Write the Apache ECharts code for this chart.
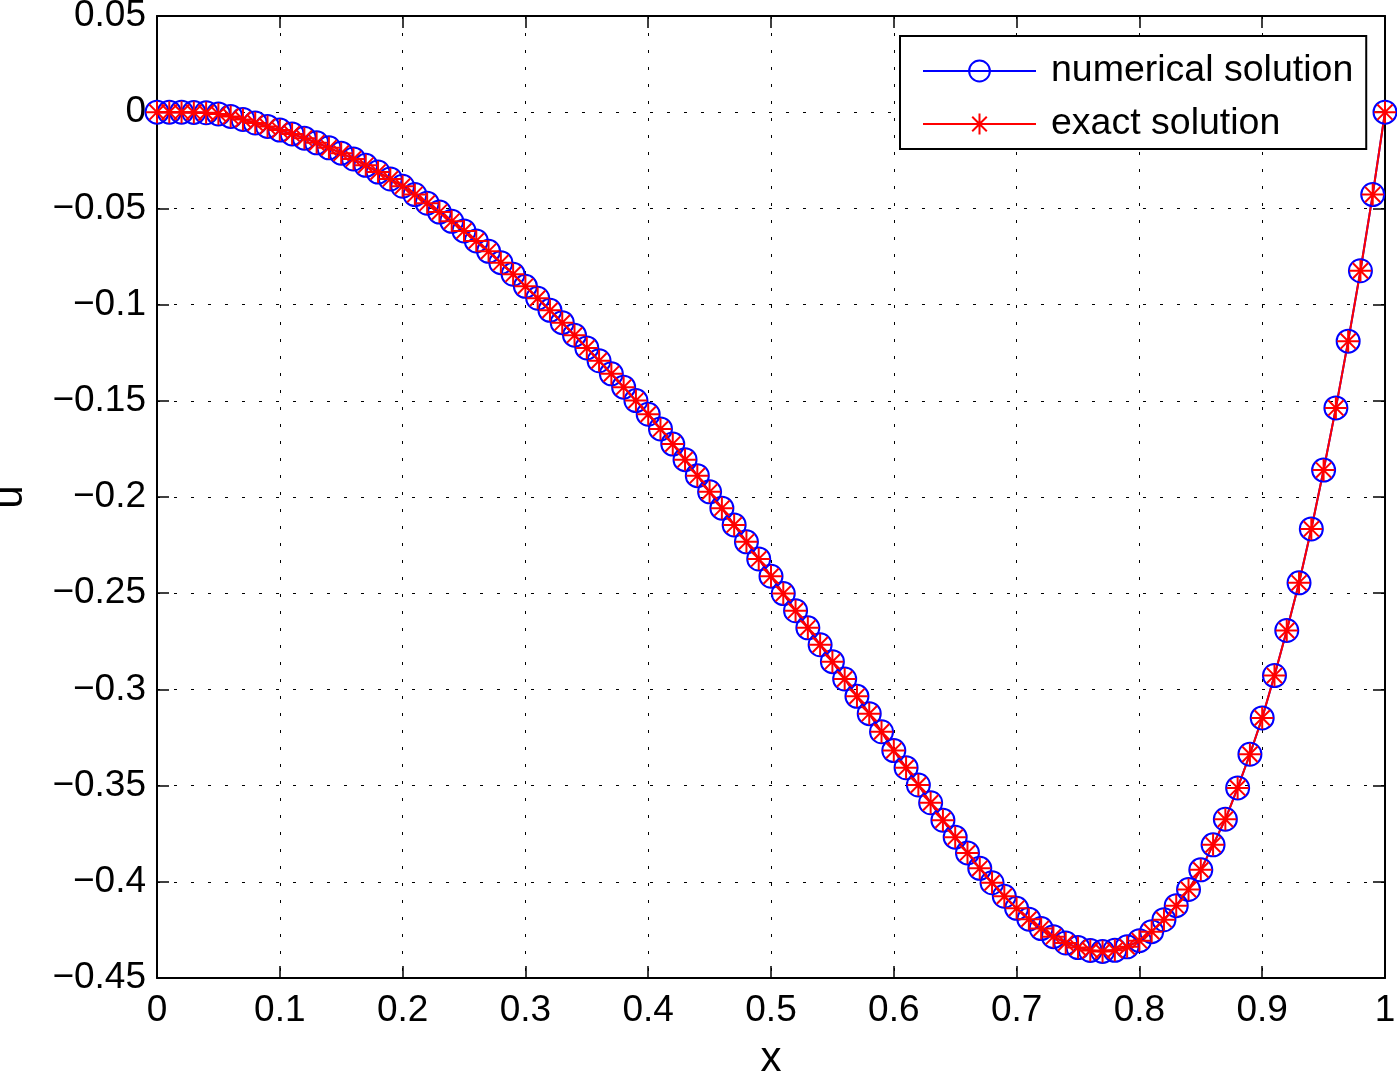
<!DOCTYPE html>
<html>
<head>
<meta charset="utf-8">
<script src="https://cdn.jsdelivr.net/npm/echarts@6/dist/echarts.min.js"></script>
<style>
  html, body { margin: 0; padding: 0; background: #fff; }
  #chart { width: 1397px; height: 1072px; }
</style>
</head>
<body>
<div id="chart"></div>
<script>
// grid nodes
const xNodes = [
  0, 0.01, 0.02, 0.03, 0.04, 0.05, 0.06, 0.07, 0.08, 0.09,
  0.1, 0.11, 0.12, 0.13, 0.14, 0.15, 0.16, 0.17, 0.18, 0.19,
  0.2, 0.21, 0.22, 0.23, 0.24, 0.25, 0.26, 0.27, 0.28, 0.29,
  0.3, 0.31, 0.32, 0.33, 0.34, 0.35, 0.36, 0.37, 0.38, 0.39,
  0.4, 0.41, 0.42, 0.43, 0.44, 0.45, 0.46, 0.47, 0.48, 0.49,
  0.5, 0.51, 0.52, 0.53, 0.54, 0.55, 0.56, 0.57, 0.58, 0.59,
  0.6, 0.61, 0.62, 0.63, 0.64, 0.65, 0.66, 0.67, 0.68, 0.69,
  0.7, 0.71, 0.72, 0.73, 0.74, 0.75, 0.76, 0.77, 0.78, 0.79,
  0.8, 0.81, 0.82, 0.83, 0.84, 0.85, 0.86, 0.87, 0.88, 0.89,
  0.9, 0.91, 0.92, 0.93, 0.94, 0.95, 0.96, 0.97, 0.98, 0.99,
  1
];

// numerical solution
const numericalU = [
  0, 0, 0, -0.0001, -0.0003, -0.0009, -0.0022, -0.0038, -0.0056, -0.0074,
  -0.0093, -0.0113, -0.0135, -0.0159, -0.0185, -0.0213, -0.0243, -0.0276, -0.0311, -0.0347,
  -0.0385, -0.0428, -0.0473, -0.0519, -0.0567, -0.0617, -0.0669, -0.0723, -0.0782, -0.0842,
  -0.0905, -0.0967, -0.1030, -0.1094, -0.1159, -0.1225, -0.1292, -0.1360, -0.1429, -0.1499,
  -0.1570, -0.1646, -0.1725, -0.1806, -0.1889, -0.1973, -0.2058, -0.2145, -0.2233, -0.2322,
  -0.2412, -0.2502, -0.2591, -0.2680, -0.2768, -0.2856, -0.2946, -0.3036, -0.3126, -0.3220,
  -0.3318, -0.3407, -0.3497, -0.3589, -0.3680, -0.3768, -0.3850, -0.3930, -0.4005, -0.4075,
  -0.4138, -0.4194, -0.4243, -0.4285, -0.4318, -0.4342, -0.4357, -0.4362, -0.4356, -0.4338,
  -0.4306, -0.4259, -0.4197, -0.4124, -0.4040, -0.3938, -0.3808, -0.3675, -0.3512, -0.3337,
  -0.3148, -0.2928, -0.2694, -0.2446, -0.2166, -0.1860, -0.1537, -0.1190, -0.0824, -0.0428,
  0
];

// exact solution - sits on top of the numerical one at this resolution
const exactU = [
  0, 0, 0, -0.0001, -0.0003, -0.0009, -0.0022, -0.0038, -0.0056, -0.0074,
  -0.0093, -0.0113, -0.0135, -0.0159, -0.0185, -0.0213, -0.0243, -0.0276, -0.0311, -0.0347,
  -0.0385, -0.0428, -0.0473, -0.0519, -0.0567, -0.0617, -0.0669, -0.0723, -0.0782, -0.0842,
  -0.0905, -0.0967, -0.1030, -0.1094, -0.1159, -0.1225, -0.1292, -0.1360, -0.1429, -0.1499,
  -0.1570, -0.1646, -0.1725, -0.1806, -0.1889, -0.1973, -0.2058, -0.2145, -0.2233, -0.2322,
  -0.2412, -0.2502, -0.2591, -0.2680, -0.2768, -0.2856, -0.2946, -0.3036, -0.3126, -0.3220,
  -0.3318, -0.3407, -0.3497, -0.3589, -0.3680, -0.3768, -0.3850, -0.3930, -0.4005, -0.4075,
  -0.4138, -0.4194, -0.4243, -0.4285, -0.4318, -0.4342, -0.4357, -0.4362, -0.4356, -0.4338,
  -0.4306, -0.4259, -0.4197, -0.4124, -0.4040, -0.3938, -0.3808, -0.3675, -0.3512, -0.3337,
  -0.3148, -0.2928, -0.2694, -0.2446, -0.2166, -0.1860, -0.1537, -0.1190, -0.0824, -0.0428,
  0
];

const seriesNames = ['numerical solution', 'exact solution'];

const chart = echarts.init(document.getElementById('chart'));

const FONT = '"Liberation Sans", Arial, Helvetica, sans-serif';
const asterisk = 'path://M10,0 L10,20 M0,10 L20,10 M3,3 L17,17 M3,17 L17,3';

const gridLine = { show: true, lineStyle: { color: '#000', width: 1, type: [3, 14] } };
const tick = { show: true, inside: true, length: 12, lineStyle: { color: '#000', width: 1.5 } };
const line = { show: true, onZero: false, lineStyle: { color: '#000', width: 2 } };

const minus = v => {
  const s = String(+(+v).toFixed(2));
  return s.charAt(0) === '-' ? '\u2212' + s.slice(1) : s;
};

const option = {
  animation: false,
  backgroundColor: '#fff',
  textStyle: { fontFamily: FONT, color: '#000' },
  grid: { left: 157, right: 12, top: 16, bottom: 94, containLabel: false, outerBoundsMode: 'none' },
  legend: {
    orient: 'vertical',
    left: 900,
    top: 36,
    padding: [15, 13, 5, 22],
    itemWidth: 113,
    itemHeight: 26,
    itemGap: 13,
    backgroundColor: '#fff',
    borderColor: '#000',
    borderWidth: 2,
    borderRadius: 0,
    textStyle: { fontFamily: FONT, fontSize: 37.5, color: '#000', lineHeight: 40, padding: [0, 0, 0, 10] },
    data: seriesNames
  },
  xAxis: [
    {
      type: 'value', min: 0, max: 1, interval: 0.1, position: 'bottom',
      name: 'x', nameLocation: 'middle', nameGap: 60,
      nameTextStyle: { fontSize: 42, color: '#000', fontFamily: FONT },
      axisLine: line, axisTick: tick, splitLine: gridLine,
      axisLabel: { fontSize: 37, color: '#000', margin: 14, fontFamily: FONT, formatter: minus }
    },
    {
      type: 'value', min: 0, max: 1, interval: 0.1, position: 'top',
      axisLine: line, axisTick: tick, splitLine: { show: false }, axisLabel: { show: false }
    }
  ],
  yAxis: [
    {
      type: 'value', min: -0.45, max: 0.05, interval: 0.05, position: 'left',
      name: 'u', nameLocation: 'middle', nameGap: 126, nameRotate: 90,
      nameTextStyle: { fontSize: 42, color: '#000', fontFamily: FONT },
      axisLine: line, axisTick: tick, splitLine: gridLine,
      axisLabel: { fontSize: 37, color: '#000', margin: 11, fontFamily: FONT, formatter: minus }
    },
    {
      type: 'value', min: -0.45, max: 0.05, interval: 0.05, position: 'right',
      axisLine: line, axisTick: tick, splitLine: { show: false }, axisLabel: { show: false }
    }
  ],
  series: [
    {
      name: seriesNames[0],
      type: 'line',
      data: xNodes.map((x, i) => [x, numericalU[i]]),
      symbol: 'circle',
      symbolSize: 23,
      showSymbol: true,
      showAllSymbol: true,
      lineStyle: { color: '#0000ff', width: 2 },
      itemStyle: { color: 'rgba(0,0,0,0)', borderColor: '#0000ff', borderWidth: 2 },
      emphasis: { disabled: true }
    },
    {
      name: seriesNames[1],
      type: 'line',
      data: xNodes.map((x, i) => [x, exactU[i]]),
      symbol: asterisk,
      symbolSize: 22,
      showSymbol: true,
      showAllSymbol: true,
      lineStyle: { color: '#ff0000', width: 2 },
      itemStyle: { color: '#ff0000', borderColor: '#ff0000', borderWidth: 2 },
      emphasis: { disabled: true }
    }
  ]
};

chart.setOption(option);
</script>
</body>
</html>
